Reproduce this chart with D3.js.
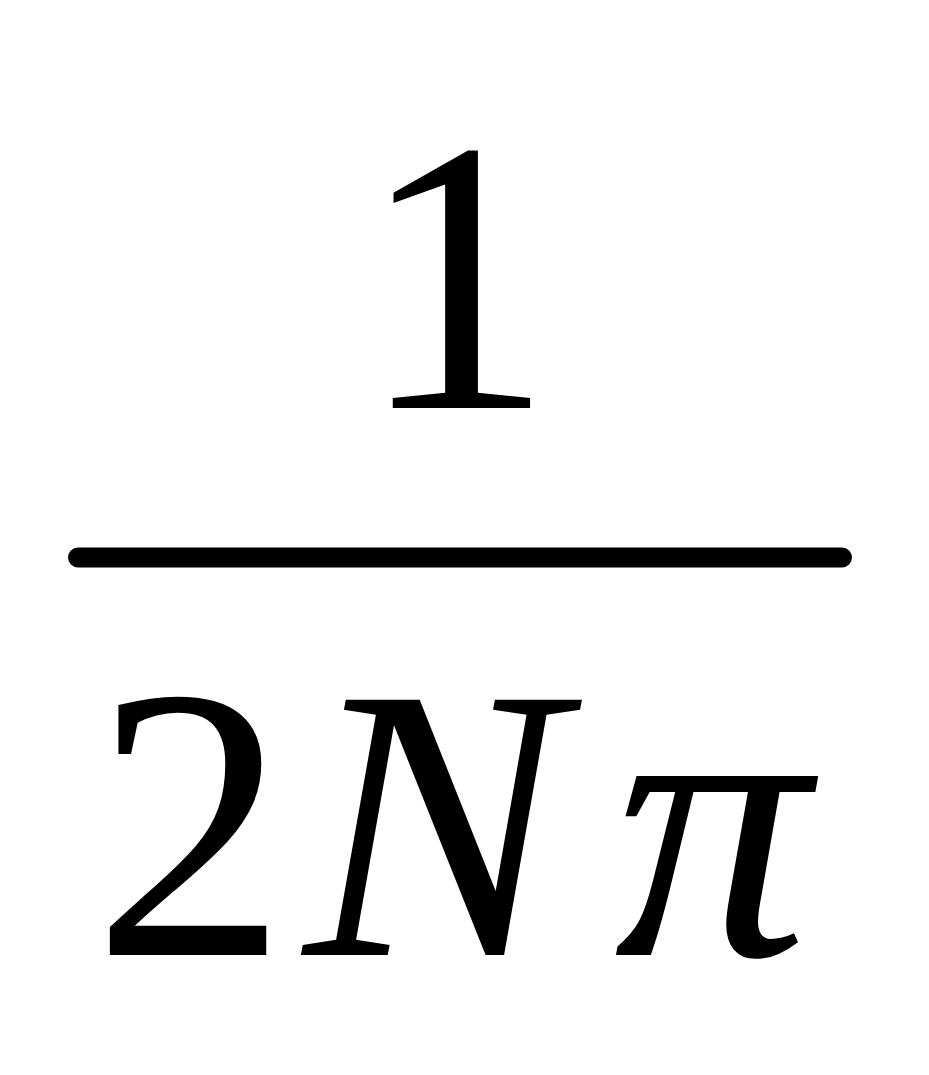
<!DOCTYPE html>
<html>
<head>
<meta charset="utf-8">
<script src="https://cdn.jsdelivr.net/npm/d3@7"></script>
<style>
  html, body { margin: 0; padding: 0; background: #fff; }
</style>
</head>
<body>
<div id="formula"></div>
<script>
// formula pieces: 1 / (2 N pi)
var numeratorTokens = ["1"];
var denominatorTokens = ["2", "N", "\u03C0"];

var width = 929, height = 1075;
var fontSize = 390;
var fontFamily = "'Liberation Serif', Times, serif";
var italicTokens = { "N": true, "\u03C0": true };
// extra spacing before each denominator token (math spacing)
var gapBefore = { "2": 0, "N": 16, "\u03C0": 50 };

var svg = d3.select("#formula")
  .append("svg")
  .attr("width", width)
  .attr("height", height);

// fraction bar
svg.append("line")
  .attr("x1", 78)
  .attr("x2", 842)
  .attr("y1", 557.5)
  .attr("y2", 557.5)
  .attr("stroke", "#000")
  .attr("stroke-width", 20)
  .attr("stroke-linecap", "round");

svg.append("text")
  .attr("x", 456)
  .attr("y", 408)
  .attr("text-anchor", "middle")
  .style("font-family", fontFamily)
  .style("font-size", fontSize + "px")
  .text(numeratorTokens.join(""));

var den = svg.append("text")
  .attr("x", 451)
  .attr("y", 955)
  .attr("text-anchor", "middle")
  .style("font-family", fontFamily)
  .style("font-size", fontSize + "px");

den.selectAll("tspan")
  .data(denominatorTokens)
  .enter()
  .append("tspan")
  .attr("dx", function (d) { return gapBefore[d] || 0; })
  .style("font-style", function (d) { return italicTokens[d] ? "italic" : "normal"; })
  .text(function (d) { return d; });
</script>
</body>
</html>
